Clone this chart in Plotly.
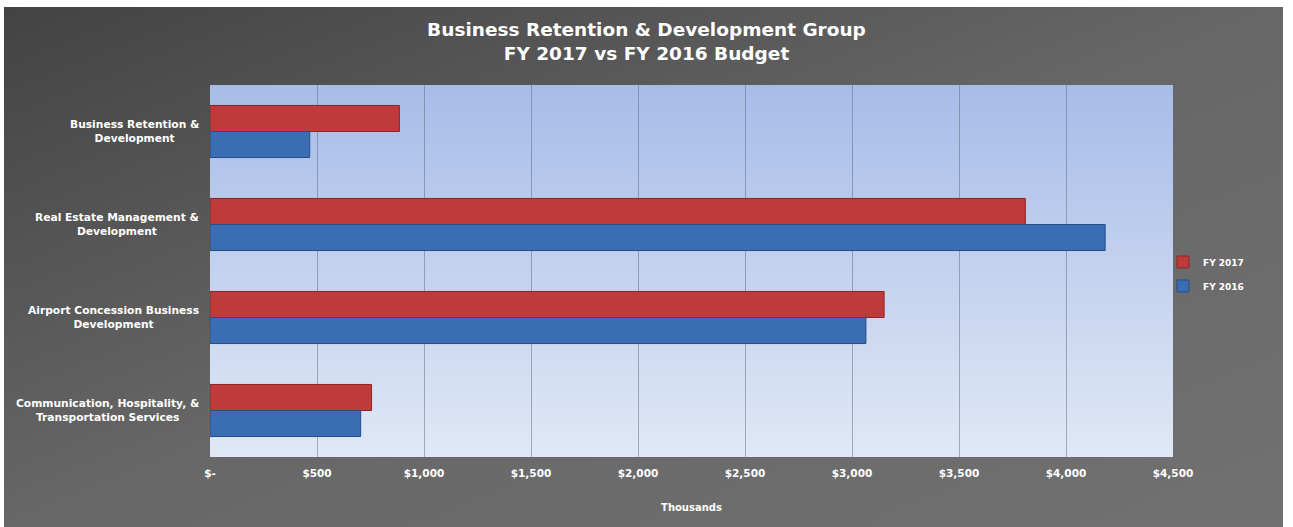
import base64
import plotly.graph_objects as go

# ---------------- data ----------------
categories = [
    "Business Retention &<br>Development",
    "Real Estate Management &<br>Development",
    "Airport Concession Business<br>Development",
    "Communication, Hospitality, &<br>Transportation Services",
]
fy2017 = [885, 3810, 3150, 755]
fy2016 = [466, 4183, 3065, 704]
tick_vals = [0, 500, 1000, 1500, 2000, 2500, 3000, 3500, 4000, 4500]
tick_text = ["$-", "$500", "$1,000", "$1,500", "$2,000", "$2,500",
             "$3,000", "$3,500", "$4,000", "$4,500"]
series_names = ["FY 2017", "FY 2016"]

# ---------------- layout geometry ----------------
W, H = 1293, 527
L, R, T, B = 210, 1173, 85, 457
pw, ph = R - L, B - T


def svg_uri(svg):
    return "data:image/svg+xml;base64," + base64.b64encode(svg.encode()).decode()


gray_svg = (
    '<svg xmlns="http://www.w3.org/2000/svg" width="1279" height="520" '
    'viewBox="0 0 100 100" preserveAspectRatio="none">'
    '<defs><linearGradient id="g" x1="0" y1="0" x2="1" y2="1">'
    '<stop offset="0" stop-color="#434343"/>'
    '<stop offset="0.5" stop-color="#676767"/>'
    '<stop offset="1" stop-color="#717171"/>'
    '</linearGradient></defs>'
    '<rect x="0" y="0" width="100" height="100" fill="url(#g)"/></svg>'
)
blue_svg = (
    '<svg xmlns="http://www.w3.org/2000/svg" width="963" height="372" '
    'viewBox="0 0 100 100" preserveAspectRatio="none">'
    '<defs><linearGradient id="b" x1="0" y1="0" x2="0" y2="1">'
    '<stop offset="0" stop-color="#a7bce8"/>'
    '<stop offset="0.5" stop-color="#c3d2ee"/>'
    '<stop offset="1" stop-color="#e0e8f6"/>'
    '</linearGradient></defs>'
    '<rect x="0" y="0" width="100" height="100" fill="url(#b)"/></svg>'
)

fig = go.Figure()
fig.add_trace(go.Bar(
    y=categories, x=fy2017, name=series_names[0], orientation="h",
    marker=dict(color="#bf3a3a", line=dict(color="#8e2424", width=1)),
    legend="legend", showlegend=True,
))
fig.add_trace(go.Bar(
    y=categories, x=fy2016, name=series_names[1], orientation="h",
    marker=dict(color="#3b6db5", line=dict(color="#274d86", width=1)),
    legend="legend2", showlegend=True,
))

label_font = dict(family="DejaVu Sans", size=10.7, color="white")

annotations = []
for c in categories:
    annotations.append(dict(
        xref="paper", yref="y", x=-9 / pw, y=c, xanchor="right", yanchor="middle",
        text="<b>" + c + "</b>", showarrow=False, align="center", font=label_font,
    ))

legend_font = dict(family="DejaVu Sans", size=9, color="white", weight="bold")

fig.update_layout(
    width=W, height=H,
    margin=dict(l=L, r=W - R, t=T, b=H - B, pad=0),
    paper_bgcolor="white",
    plot_bgcolor="rgba(0,0,0,0)",
    showlegend=True,
    barmode="group", bargap=0.44, bargroupgap=0,
    title=dict(
        text="<b>Business Retention & Development Group<br>FY 2017 vs FY 2016 Budget</b>",
        x=0.5, xref="container", xanchor="center",
        y=1 - 36 / H, yanchor="middle",
        font=dict(family="DejaVu Sans", size=18.5, color="white"),
    ),
    xaxis=dict(
        range=[0, 4500], tickvals=tick_vals, ticktext=tick_text,
        showgrid=True, gridcolor="rgba(95,105,125,0.5)", gridwidth=1,
        zeroline=False, showline=False, ticks="",
        tickfont=dict(family="DejaVu Sans", size=10.5, color="white", weight="bold"),
        title=dict(text="<b>Thousands</b>", standoff=26,
                   font=dict(family="DejaVu Sans", size=10, color="white")),
        ticklabelstandoff=8,
    ),
    yaxis=dict(
        autorange="reversed", showticklabels=False, showgrid=False,
        zeroline=False, showline=False, ticks="",
    ),
    legend=dict(
        x=(1163 - L) / pw, y=(B - 262) / ph, xanchor="left", yanchor="middle",
        bgcolor="rgba(0,0,0,0)", font=legend_font, itemwidth=30,
    ),
    legend2=dict(
        x=(1163 - L) / pw, y=(B - 286) / ph, xanchor="left", yanchor="middle",
        bgcolor="rgba(0,0,0,0)", font=legend_font, itemwidth=30,
    ),
    annotations=annotations,
    images=[
        dict(source=svg_uri(gray_svg), xref="paper", yref="paper",
             x=(4 - L) / pw, y=(B - 7) / ph, sizex=(1283 - 4) / pw, sizey=(527 - 7) / ph,
             xanchor="left", yanchor="top", sizing="stretch", layer="below"),
        dict(source=svg_uri(blue_svg), xref="paper", yref="paper",
             x=0, y=1, sizex=1, sizey=1,
             xanchor="left", yanchor="top", sizing="stretch", layer="below"),
    ],
)

fig.write_html(
    "out.html",
    config={"displayModeBar": False},
    post_script="document.body.style.margin='0';document.body.style.overflow='hidden';",
)
